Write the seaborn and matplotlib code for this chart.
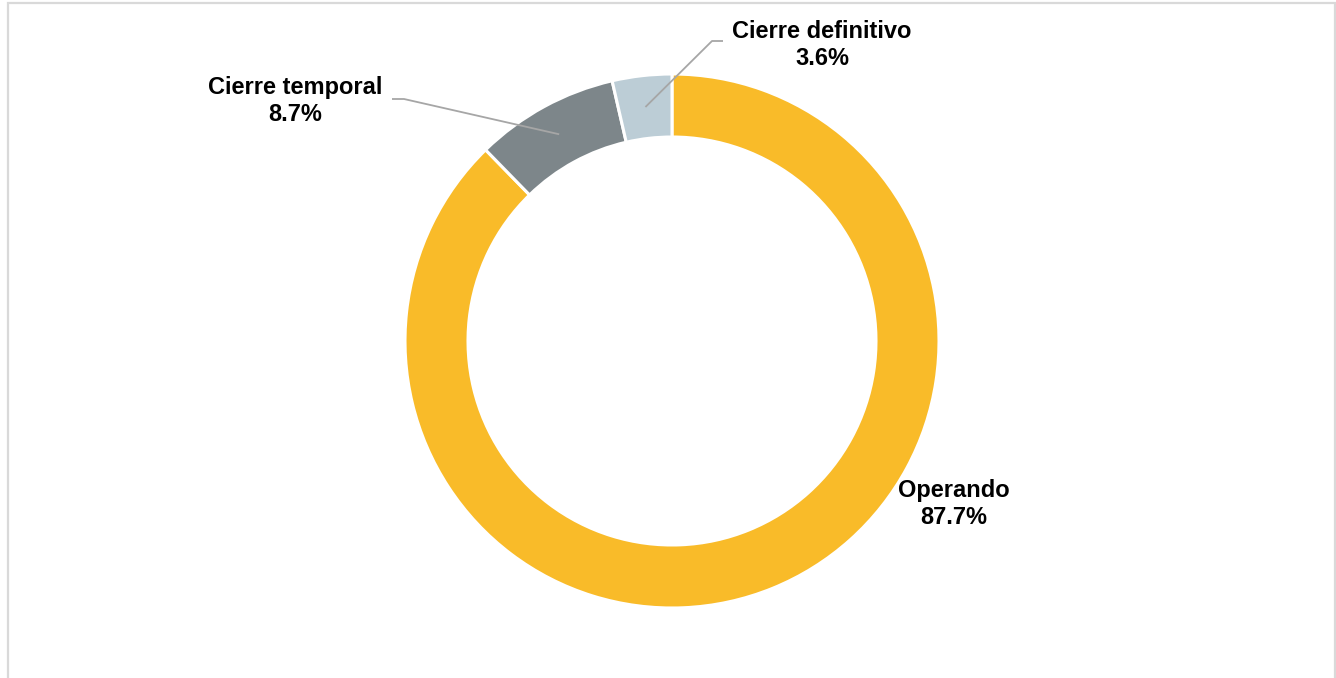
import numpy as np
import matplotlib
matplotlib.use("Agg")
import matplotlib.pyplot as plt
import seaborn as sns

# Estado de las unidades (porcentaje)
categorias = ["Operando", "Cierre temporal", "Cierre definitivo"]
porcentajes = [87.7, 8.7, 3.6]
colores = ["#F9BB29", "#7D868A", "#BCCDD6"]

sns.set_theme(style="white")
plt.rcParams["font.family"] = ["Liberation Sans", "DejaVu Sans"]

W, H = 1336, 678
fig = plt.figure(figsize=(W / 100, H / 100), dpi=100)
ax = fig.add_axes([0, 0, 1, 1])
ax.set_xlim(0, W)
ax.set_ylim(0, H)
ax.set_aspect("equal")
ax.axis("off")

# Marco exterior del gráfico
marco = "#D9D9D9"
ax.plot([7.5, 7.5, 1334.5, 1334.5], [0, H - 3, H - 3, 0], color=marco, lw=1.6,
        solid_joinstyle="miter")

cx, cy = 672, H - 341
r_ext, ancho = 267, 63
wedges, _ = ax.pie(porcentajes, colors=colores, startangle=90, counterclock=False,
                   center=(cx, cy), radius=r_ext, frame=True,
                   wedgeprops=dict(width=ancho, edgecolor="white", linewidth=2.2))
ax.set_xlim(0, W)
ax.set_ylim(0, H)
ax.axis("off")

# Etiquetas: posición del texto y codo de la línea guía (None = sin línea)
etiquetas = {
    "Operando": dict(xy=(954, H - 504), codo=None),
    "Cierre temporal": dict(xy=(295, H - 101), codo=[(404, H - 99), (392, H - 99)]),
    "Cierre definitivo": dict(xy=(822, H - 45), codo=[(712, H - 41), (723, H - 41)]),
}

r_medio = r_ext - ancho / 2
acum = 0.0
total = sum(porcentajes)
for cat, val in zip(categorias, porcentajes):
    ang_medio = 90 - 360 * (acum + val / 2) / total
    acum += val
    info = etiquetas[cat]
    ax.text(info["xy"][0], info["xy"][1], f"{cat}\n{val:.1f}%", ha="center", va="center",
            fontsize=17, fontweight="bold", color="black", linespacing=1.2)
    if info["codo"]:
        px = cx + r_medio * np.cos(np.radians(ang_medio))
        py = cy + r_medio * np.sin(np.radians(ang_medio))
        xs = [px] + [p[0] for p in info["codo"]]
        ys = [py] + [p[1] for p in info["codo"]]
        ax.plot(xs, ys, color="#A6A6A6", lw=1.3, solid_capstyle="butt")

fig.savefig("out.png", dpi=100, facecolor="white")
